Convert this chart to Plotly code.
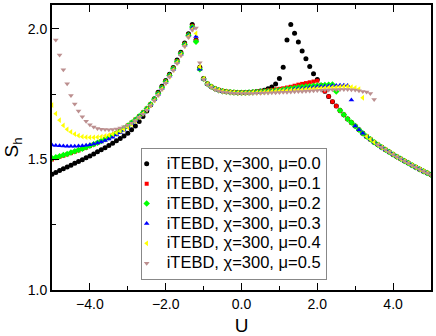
import plotly.graph_objects as go

# U grid (step 0.1)
u = [-5.0, -4.9, -4.8, -4.7, -4.6, -4.5, -4.4, -4.3, -4.2, -4.1,
     -4.0, -3.9, -3.8, -3.7, -3.6, -3.5, -3.4, -3.3, -3.2, -3.1,
     -3.0, -2.9, -2.8, -2.7, -2.6, -2.5, -2.4, -2.3, -2.2, -2.1,
     -2.0, -1.9, -1.8, -1.7, -1.6, -1.5, -1.4, -1.3, -1.2, -1.1,
     -1.0, -0.9, -0.8, -0.7, -0.6, -0.5, -0.4, -0.3, -0.2, -0.1,
     0.0, 0.1, 0.2, 0.3, 0.4, 0.5, 0.6, 0.7, 0.8, 0.9,
     1.0, 1.1, 1.2, 1.3, 1.4, 1.5, 1.6, 1.7, 1.8, 1.9,
     2.0, 2.1, 2.2, 2.3, 2.4, 2.5, 2.6, 2.7, 2.8, 2.9,
     3.0, 3.1, 3.2, 3.3, 3.4, 3.5, 3.6, 3.7, 3.8, 3.9,
     4.0, 4.1, 4.2, 4.3, 4.4, 4.5, 4.6, 4.7, 4.8, 4.9, 5.0]

s_mu00 = [1.443, 1.450, 1.457, 1.464, 1.471, 1.478, 1.485, 1.492, 1.499, 1.506,
          1.513, 1.521, 1.529, 1.537, 1.545, 1.553, 1.562, 1.571, 1.580, 1.590,
          1.600, 1.613, 1.628, 1.645, 1.664, 1.685, 1.708, 1.732, 1.757, 1.780,
          1.802, 1.826, 1.852, 1.880, 1.910, 1.946, 1.981, 2.016, 1.957, 1.853,
          1.810, 1.790, 1.779, 1.771, 1.766, 1.762, 1.760, 1.758, 1.757, 1.756,
          1.756, 1.756, 1.757, 1.758, 1.760, 1.762, 1.765, 1.770, 1.777, 1.789,
          1.810, 1.853, 1.957, 2.016, 1.983, 1.949, 1.915, 1.885, 1.856, 1.828,
          1.806, 1.783, 1.761, 1.741, 1.721, 1.704, 1.687, 1.671, 1.655, 1.641,
          1.628, 1.613, 1.600, 1.588, 1.577, 1.566, 1.556, 1.546, 1.537, 1.528,
          1.519, 1.510, 1.502, 1.494, 1.486, 1.478, 1.470, 1.462, 1.455, 1.448, 1.441]

s_mu01 = [1.500, 1.505, 1.510, 1.514, 1.519, 1.524, 1.529, 1.534, 1.540, 1.545,
          1.551, 1.557, 1.563, 1.570, 1.577, 1.585, 1.593, 1.601, 1.610, 1.620,
          1.630, 1.641, 1.653, 1.666, 1.680, 1.695, 1.712, 1.731, 1.753, 1.776,
          1.799, 1.823, 1.849, 1.876, 1.906, 1.942, 1.977, 2.011, 1.955, 1.847,
          1.809, 1.790, 1.779, 1.771, 1.766, 1.762, 1.760, 1.758, 1.757, 1.756,
          1.756, 1.756, 1.757, 1.758, 1.759, 1.760, 1.762, 1.764, 1.766, 1.768,
          1.770, 1.772, 1.775, 1.778, 1.782, 1.786, 1.789, 1.792, 1.795, 1.798,
          1.801, 1.783, 1.761, 1.741, 1.721, 1.704, 1.687, 1.671, 1.655, 1.641,
          1.628, 1.613, 1.600, 1.588, 1.577, 1.566, 1.556, 1.546, 1.537, 1.528,
          1.519, 1.510, 1.502, 1.494, 1.486, 1.478, 1.470, 1.462, 1.455, 1.448, 1.441]

s_mu02 = [1.504, 1.508, 1.512, 1.517, 1.521, 1.526, 1.531, 1.536, 1.541, 1.546,
          1.552, 1.558, 1.564, 1.570, 1.577, 1.584, 1.592, 1.600, 1.609, 1.619,
          1.629, 1.640, 1.652, 1.665, 1.679, 1.694, 1.711, 1.730, 1.751, 1.774,
          1.797, 1.821, 1.847, 1.874, 1.904, 1.940, 1.975, 2.007, 1.950, 1.845,
          1.808, 1.789, 1.778, 1.770, 1.765, 1.761, 1.759, 1.757, 1.756, 1.755,
          1.755, 1.755, 1.756, 1.757, 1.758, 1.759, 1.760, 1.761, 1.762, 1.764,
          1.765, 1.767, 1.769, 1.771, 1.773, 1.775, 1.777, 1.779, 1.780, 1.782,
          1.783, 1.784, 1.785, 1.786, 1.787, 1.760, 1.687, 1.671, 1.655, 1.641,
          1.628, 1.613, 1.600, 1.588, 1.577, 1.566, 1.556, 1.546, 1.537, 1.528,
          1.519, 1.510, 1.502, 1.494, 1.486, 1.478, 1.470, 1.462, 1.455, 1.448, 1.441]

s_mu03 = [1.555, 1.553, 1.552, 1.551, 1.550, 1.550, 1.550, 1.551, 1.552, 1.554,
          1.556, 1.559, 1.563, 1.567, 1.572, 1.578, 1.585, 1.593, 1.602, 1.612,
          1.623, 1.636, 1.649, 1.663, 1.677, 1.692, 1.709, 1.728, 1.749, 1.772,
          1.795, 1.819, 1.845, 1.872, 1.902, 1.938, 1.973, 2.003, 1.970, 1.845,
          1.808, 1.789, 1.778, 1.770, 1.765, 1.761, 1.759, 1.757, 1.756, 1.755,
          1.755, 1.755, 1.756, 1.756, 1.757, 1.758, 1.759, 1.760, 1.761, 1.762,
          1.763, 1.764, 1.766, 1.767, 1.769, 1.770, 1.772, 1.773, 1.775, 1.776,
          1.778, 1.779, 1.780, 1.781, 1.782, 1.783, 1.784, 1.784, 1.783, 1.727,
          1.628, 1.613, 1.600, 1.588, 1.577, 1.566, 1.556, 1.546, 1.537, 1.528,
          1.519, 1.510, 1.502, 1.494, 1.486, 1.478, 1.470, 1.462, 1.455, 1.448, 1.441]

s_mu04 = [1.708, 1.675, 1.650, 1.630, 1.615, 1.605, 1.597, 1.591, 1.587, 1.585,
          1.584, 1.584, 1.585, 1.587, 1.590, 1.593, 1.597, 1.602, 1.608, 1.615,
          1.623, 1.634, 1.647, 1.661, 1.675, 1.690, 1.707, 1.726, 1.747, 1.770,
          1.793, 1.817, 1.843, 1.870, 1.900, 1.935, 1.970, 1.998, 1.982, 1.855,
          1.809, 1.789, 1.778, 1.770, 1.765, 1.761, 1.759, 1.757, 1.756, 1.755,
          1.755, 1.755, 1.755, 1.756, 1.756, 1.757, 1.758, 1.759, 1.760, 1.761,
          1.762, 1.763, 1.764, 1.765, 1.766, 1.767, 1.768, 1.769, 1.770, 1.771,
          1.772, 1.773, 1.774, 1.775, 1.776, 1.777, 1.778, 1.779, 1.779, 1.777,
          1.774, 1.769, 1.736, 1.588, 1.577, 1.566, 1.556, 1.546, 1.537, 1.528,
          1.519, 1.510, 1.502, 1.494, 1.486, 1.478, 1.470, 1.462, 1.455, 1.448, 1.441]

s_mu05 = [None, 1.957, 1.900, 1.843, 1.790, 1.745, 1.712, 1.685, 1.663, 1.646,
          1.633, 1.624, 1.618, 1.615, 1.614, 1.613, 1.614, 1.616, 1.620, 1.625,
          1.631, 1.638, 1.648, 1.660, 1.673, 1.688, 1.705, 1.724, 1.745, 1.768,
          1.791, 1.815, 1.840, 1.867, 1.897, 1.932, 1.967, 1.995, 2.003, 1.870,
          1.806, 1.786, 1.775, 1.767, 1.762, 1.758, 1.756, 1.754, 1.753, 1.752,
          1.752, 1.752, 1.752, 1.752, 1.753, 1.753, 1.754, 1.754, 1.755, 1.755,
          1.756, 1.757, 1.757, 1.758, 1.759, 1.760, 1.760, 1.761, 1.762, 1.763,
          1.764, 1.765, 1.766, 1.766, 1.767, 1.767, 1.768, 1.768, 1.768, 1.767,
          1.766, 1.763, 1.760, 1.758, 1.752, 1.729, 1.556, 1.546, 1.537, 1.528,
          1.519, 1.510, 1.502, 1.494, 1.486, 1.478, 1.470, 1.462, 1.455, 1.448, 1.441]

labels = ["iTEBD, \u03c7=300, \u03bc=0.0", "iTEBD, \u03c7=300, \u03bc=0.1",
          "iTEBD, \u03c7=300, \u03bc=0.2", "iTEBD, \u03c7=300, \u03bc=0.3",
          "iTEBD, \u03c7=300, \u03bc=0.4", "iTEBD, \u03c7=300, \u03bc=0.5"]

series = [s_mu00, s_mu01, s_mu02, s_mu03, s_mu04, s_mu05]
colors = ["#000000", "#ff0000", "#00ff00", "#0000ff", "#ffff00", "#bc8f8f"]
symbols = ["circle", "square", "diamond", "triangle-up", "triangle-left", "triangle-down"]
sizes = [5, 4, 5, 5, 5, 5]

fig = go.Figure()

for s, name, c, sym, sz in zip(series, labels, colors, symbols, sizes):
    fig.add_trace(go.Scatter(
        x=u, y=s, mode="markers",
        # legend rows are spaced by the (smaller) legend font, text is drawn bigger
        name='<span style="font-size:16.5px">' + name + '</span>',
        marker=dict(color=c, symbol=sym, size=sz, line=dict(width=0))
    ))

font = "Liberation Sans, Arial, sans-serif"

fig.update_layout(
    width=436, height=336,
    margin=dict(l=52, r=4, t=3, b=45),
    plot_bgcolor="white", paper_bgcolor="white",
    font=dict(family=font, color="black"),
    showlegend=True,
    legend=dict(
        x=0.234, y=0.499, xanchor="left", yanchor="top",
        bgcolor="white", bordercolor="#888888", borderwidth=1,
        font=dict(size=13, family=font), indentation=-15,
        itemsizing="trace",
    ),
    xaxis=dict(
        range=[-5, 5], tickvals=[-4, -2, 0, 2, 4], tickformat=".1f",
        ticks="inside", ticklen=7, tickwidth=1, tickcolor="black",
        minor=dict(tickvals=[-3, -1, 1, 3], ticks="inside", ticklen=4, tickcolor="black"),
        showline=True, linecolor="black", linewidth=2, mirror="allticks",
        showgrid=False, zeroline=False,
        tickfont=dict(size=14),
        title=dict(text="U", font=dict(size=19), standoff=8),
    ),
    yaxis=dict(
        range=[1.0, 2.091], tickvals=[1.0, 1.5, 2.0], tickformat=".1f",
        ticks="inside", ticklen=7, tickwidth=1, tickcolor="black",
        minor=dict(tickvals=[1.25, 1.75], ticks="inside", ticklen=4, tickcolor="black"),
        showline=True, linecolor="black", linewidth=2, mirror=True,
        showgrid=False, zeroline=False,
        tickfont=dict(size=14),
        title=dict(text="S<sub>h</sub>", font=dict(size=19), standoff=4),
    ),
)

fig.write_html("out.html", config={"displayModeBar": False},
               post_script="document.body.style.margin='0px';")
